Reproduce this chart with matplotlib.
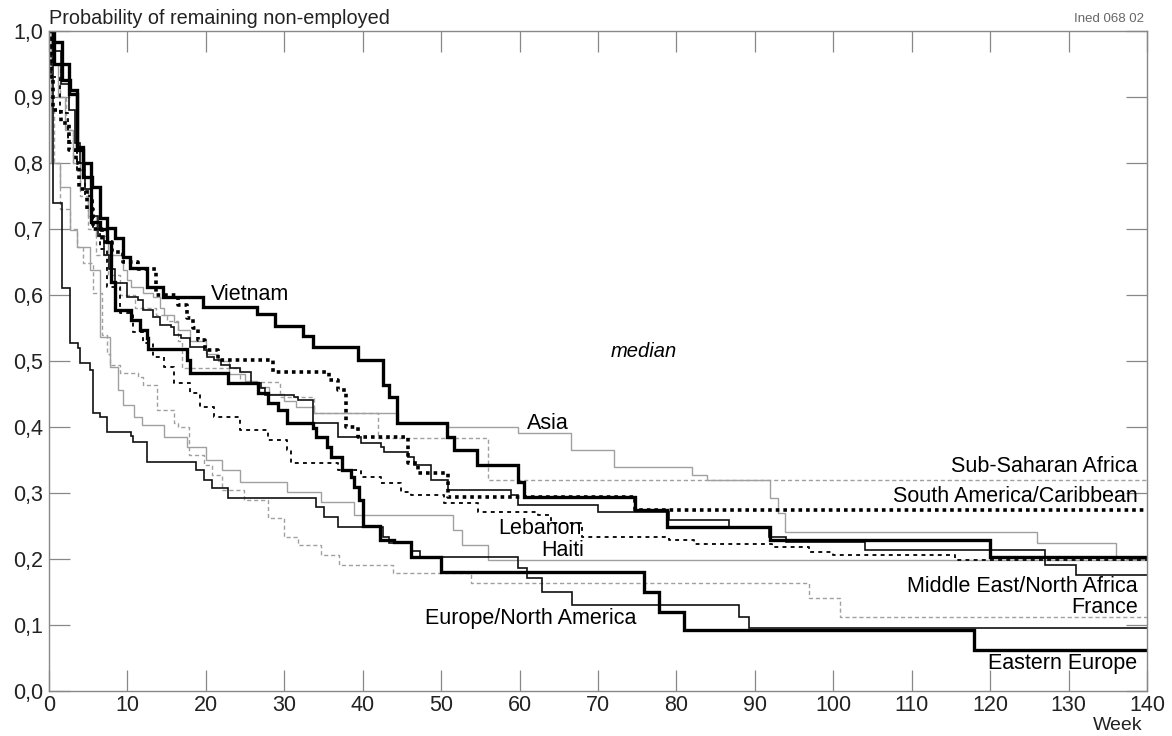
import matplotlib
matplotlib.use("Agg")
import matplotlib.pyplot as plt
from matplotlib.ticker import FuncFormatter

plt.rcParams["font.family"] = ["Liberation Sans", "DejaVu Sans"]

# ---- data (weeks at which each step starts, and survival value after step) ----
END_WEEK = 140

vietnam_t = [0, 0.5, 1.6, 2.7, 3.6, 4.3, 5.5, 6.5, 7.4, 8.4, 9.4, 10.3, 12.5, 14.5, 19.6, 26.5,
             28.8, 32.4, 33.7, 39.4, 42.6, 43.3, 44.4, 50.8, 51.6, 54.6, 59.8, 60.5, 74.7, 78.8,
             91.9, 120.0]
vietnam_s = [1.0, 0.983, 0.926, 0.911, 0.824, 0.779, 0.764, 0.717, 0.702, 0.686, 0.658, 0.641,
             0.612, 0.597, 0.582, 0.571, 0.553, 0.538, 0.521, 0.502, 0.464, 0.445, 0.406, 0.385,
             0.365, 0.342, 0.317, 0.294, 0.274, 0.248, 0.229, 0.203]

easteur_t = [0, 0.6, 2.6, 3.6, 4.3, 5.3, 6.5, 7.4, 7.9, 8.4, 10.4, 11.6, 12.5, 12.6, 17.6, 18.0,
             22.8, 26.7, 27.9, 29.2, 30.4, 33.6, 34.0, 35.5, 35.9, 37.4, 38.5, 38.9, 39.5, 40.0,
             42.2, 44.0, 46.1, 50.0, 75.8, 77.8, 81.0, 118.0]
easteur_s = [1.0, 0.95, 0.905, 0.82, 0.80, 0.71, 0.70, 0.68, 0.62, 0.577, 0.562, 0.547, 0.535,
             0.518, 0.502, 0.482, 0.467, 0.452, 0.436, 0.426, 0.406, 0.398, 0.385, 0.37, 0.355,
             0.335, 0.324, 0.309, 0.289, 0.25, 0.229, 0.226, 0.203, 0.18, 0.15, 0.12, 0.092, 0.062]

samerica_t = [0, 0.3, 0.5, 1.5, 2.6, 3.4, 3.8, 4.8, 5.6, 6.8, 8.0, 9.5, 11.3, 13.6, 16.4, 17.6,
              18.4, 19.0, 19.9, 21.6, 28.6, 35.7, 36.8, 37.9, 39.4, 45.8, 47.1, 50.9, 74.7]
samerica_s = [1.0, 0.93, 0.88, 0.86, 0.82, 0.80, 0.76, 0.73, 0.70, 0.68, 0.665, 0.65, 0.64, 0.60,
              0.585, 0.565, 0.55, 0.532, 0.517, 0.502, 0.483, 0.471, 0.456, 0.40, 0.385, 0.345,
              0.33, 0.294, 0.274]

lebanon_t = [0, 0.3, 1.4, 2.4, 3.6, 4.6, 5.6, 6.5, 7.4, 9.1, 10.7, 12.0, 13.3, 14.6, 15.9, 18.0,
             19.3, 21.0, 24.4, 27.9, 30.4, 30.8, 36.8, 39.8, 42.3, 44.9, 46.2, 50.4, 54.7, 62.4,
             64.0, 67.9, 79.0, 82.2, 92.2, 96.9, 99.9, 115.5]
lebanon_s = [1.0, 0.93, 0.875, 0.83, 0.79, 0.75, 0.70, 0.67, 0.612, 0.573, 0.544, 0.527, 0.506,
             0.491, 0.467, 0.452, 0.43, 0.415, 0.395, 0.38, 0.365, 0.345, 0.335, 0.324, 0.315,
             0.302, 0.297, 0.285, 0.271, 0.267, 0.255, 0.233, 0.229, 0.223, 0.218, 0.21, 0.206,
             0.198]

eurna_t = [0, 0.5, 1.7, 2.7, 3.7, 4.0, 5.2, 5.6, 6.5, 7.4, 10.4, 10.7, 12.5, 18.7, 19.7, 20.8,
           22.8, 34.0, 35.0, 36.8, 42.6, 43.3, 46.3, 47.3, 59.8, 60.9, 62.9, 66.7, 88.0, 89.3]
eurna_s = [1.0, 0.739, 0.611, 0.527, 0.52, 0.497, 0.486, 0.421, 0.415, 0.392, 0.386, 0.377, 0.347,
           0.335, 0.32, 0.308, 0.292, 0.279, 0.264, 0.248, 0.233, 0.224, 0.212, 0.203, 0.186,
           0.171, 0.15, 0.13, 0.112, 0.095]

mena_t = [0, 0.5, 1.5, 2.5, 3.3, 4.0, 4.6, 5.4, 6.2, 7.0, 7.6, 8.4, 10.0, 11.3, 12.0, 13.3, 14.2,
          15.5, 15.9, 16.8, 18.0, 19.7, 20.2, 21.0, 21.9, 23.1, 24.4, 25.7, 27.0, 27.6, 31.2, 31.7,
          33.6, 36.8, 39.8, 42.3, 42.7, 45.8, 46.6, 48.7, 50.9, 58.9, 59.8, 70.0, 79.0, 86.7,
          91.8, 94.0, 104.0, 127.0, 131.0]
mena_s = [1.0, 0.97, 0.92, 0.88, 0.83, 0.80, 0.76, 0.72, 0.69, 0.66, 0.64, 0.618, 0.597, 0.592,
          0.577, 0.567, 0.555, 0.552, 0.539, 0.535, 0.521, 0.517, 0.506, 0.502, 0.494, 0.489,
          0.483, 0.467, 0.459, 0.448, 0.445, 0.441, 0.406, 0.385, 0.376, 0.37, 0.362, 0.355,
          0.342, 0.32, 0.305, 0.297, 0.282, 0.271, 0.259, 0.247, 0.233, 0.226, 0.214, 0.191, 0.176]

asia_t = [0, 0.4, 1.2, 2.0, 3.0, 4.0, 5.0, 6.0, 7.5, 9.5, 10.0, 10.4, 12.0, 13.3, 14.2, 14.6, 15.9,
          16.4, 18.0, 20.0, 21.5, 23.0, 25.0, 26.5, 28.0, 30.0, 31.5, 33.8, 44.5, 50.9, 59.8,
          66.6, 72.0, 82.0, 83.9, 91.9, 93.0, 93.9, 126.0, 136.0]
asia_s = [1.0, 0.95, 0.90, 0.85, 0.80, 0.76, 0.72, 0.69, 0.66, 0.638, 0.623, 0.612, 0.603, 0.597,
          0.58, 0.57, 0.559, 0.547, 0.53, 0.51, 0.50, 0.48, 0.47, 0.46, 0.45, 0.44, 0.43, 0.421,
          0.406, 0.40, 0.391, 0.365, 0.339, 0.327, 0.32, 0.292, 0.27, 0.241, 0.224, 0.203]

haiti_t = [0, 0.3, 1.4, 2.7, 3.6, 5.2, 6.5, 7.8, 8.8, 9.5, 10.8, 11.8, 14.6, 17.6, 20.0, 22.0,
           24.4, 30.4, 34.7, 38.9, 51.5, 52.6, 56.0]
haiti_s = [1.0, 0.80, 0.764, 0.698, 0.673, 0.638, 0.536, 0.491, 0.456, 0.433, 0.415, 0.403, 0.385,
           0.37, 0.35, 0.335, 0.317, 0.302, 0.286, 0.267, 0.244, 0.221, 0.198]

ssa_t = [0, 0.5, 1.4, 2.2, 3.0, 4.0, 5.0, 6.0, 7.5, 9.0, 11.0, 13.6, 15.0, 16.5, 17.0, 24.4, 29.5,
         33.8, 41.9, 56.0]
ssa_s = [1.0, 0.95, 0.90, 0.85, 0.80, 0.75, 0.70, 0.66, 0.63, 0.60, 0.58, 0.57, 0.56, 0.53, 0.49,
         0.468, 0.445, 0.421, 0.383, 0.32]

france_t = [0, 0.2, 0.6, 1.4, 2.7, 3.6, 4.3, 5.6, 6.8, 7.4, 7.8, 9.1, 11.3, 12.0, 13.8, 15.9,
            16.5, 17.8, 19.7, 20.8, 22.1, 24.8, 27.9, 29.9, 31.7, 34.7, 37.0, 43.9, 53.8, 96.9,
            100.9]
france_s = [1.0, 0.88, 0.80, 0.73, 0.70, 0.673, 0.648, 0.603, 0.54, 0.51, 0.494, 0.482, 0.476,
            0.464, 0.426, 0.406, 0.40, 0.358, 0.342, 0.327, 0.305, 0.289, 0.262, 0.233, 0.221,
            0.206, 0.191, 0.179, 0.164, 0.141, 0.112]

x_ticks = [0, 10, 20, 30, 40, 50, 60, 70, 80, 90, 100, 110, 120, 130, 140]
y_ticks = [0.0, 0.1, 0.2, 0.3, 0.4, 0.5, 0.6, 0.7, 0.8, 0.9, 1.0]

# ---- figure ----
fig = plt.figure(figsize=(11.72, 7.36), dpi=100)
ax = fig.add_axes([0.0418, 0.0611, 0.9369, 0.8969])

GRAY = "#a0a0a0"
series = [
    (haiti_t, haiti_s, dict(color=GRAY, lw=1.0, ls="-")),
    (asia_t, asia_s, dict(color=GRAY, lw=1.0, ls="-")),
    (ssa_t, ssa_s, dict(color=GRAY, lw=1.0, ls=(0, (3, 2)))),
    (france_t, france_s, dict(color=GRAY, lw=1.0, ls=(0, (3, 2)))),
    (mena_t, mena_s, dict(color="#111111", lw=1.2, ls="-")),
    (eurna_t, eurna_s, dict(color="#111111", lw=1.2, ls="-")),
    (lebanon_t, lebanon_s, dict(color="#111111", lw=1.4, ls=(0, (2, 2.2)))),
    (samerica_t, samerica_s, dict(color="#000000", lw=2.6, ls=(0, (1, 1.1)))),
    (easteur_t, easteur_s, dict(color="#000000", lw=2.4, ls="-")),
    (vietnam_t, vietnam_s, dict(color="#000000", lw=2.4, ls="-")),
]
for t, s, st in series:
    tt = list(t) + [END_WEEK]
    ss = list(s) + [s[-1]]
    ax.step(tt, ss, where="post", solid_joinstyle="miter", **st)

ax.set_xlim(0, 140)
ax.set_ylim(0, 1.0)
ax.set_xticks(x_ticks)
ax.set_yticks(y_ticks)
ax.yaxis.set_major_formatter(FuncFormatter(lambda v, p: f"{v:.1f}".replace(".", ",")))
ax.tick_params(axis="both", which="major", direction="in", length=15, width=0.9,
               color="#888888", labelsize=15.5, labelcolor="#222222",
               top=True, right=True, pad=4)
ax.tick_params(axis="x", pad=3)
for sp in ax.spines.values():
    sp.set_color("#888888")
    sp.set_linewidth(1.0)

# ---- text ----
fig.text(0.0418, 0.962, "Probability of remaining non-employed", fontsize=14.3,
         ha="left", va="bottom", color="#222222")
fig.text(0.976, 0.966, "Ined 068 02", fontsize=9.5, ha="right", va="bottom", color="#666666")
fig.text(0.975, 0.003, "Week", fontsize=14, ha="right", va="bottom", color="#222222")

fs = 15.5
ax.text(75.8, 0.514, "median", fontsize=14.5, style="italic", ha="center", va="center")
ax.text(20.7, 0.600, "Vietnam", fontsize=fs, ha="left", va="center")
ax.text(60.9, 0.406, "Asia", fontsize=fs, ha="left", va="center")
ax.text(138.8, 0.340, "Sub-Saharan Africa", fontsize=fs, ha="right", va="center")
ax.text(138.8, 0.294, "South America/Caribbean", fontsize=fs, ha="right", va="center")
ax.text(57.3, 0.246, "Lebanon", fontsize=fs, ha="left", va="center")
ax.text(65.5, 0.213, "Haiti", fontsize=fs, ha="center", va="center")
ax.text(138.8, 0.159, "Middle East/North Africa", fontsize=fs, ha="right", va="center")
ax.text(138.8, 0.126, "France", fontsize=fs, ha="right", va="center")
ax.text(47.9, 0.110, "Europe/North America", fontsize=fs, ha="left", va="center")
ax.text(138.8, 0.042, "Eastern Europe", fontsize=fs, ha="right", va="center")

fig.savefig("out.png", dpi=100)
